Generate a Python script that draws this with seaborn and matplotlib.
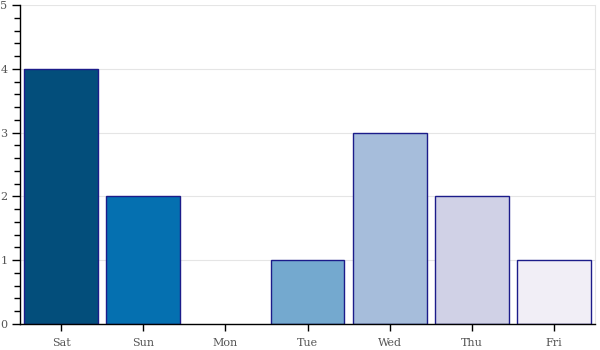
import matplotlib
matplotlib.use("Agg")
import matplotlib.pyplot as plt
import seaborn as sns
import pandas as pd
from matplotlib.ticker import MultipleLocator, AutoMinorLocator

days = ["Sat", "Sun", "Mon", "Tue", "Wed", "Thu", "Fri"]
counts = [4, 2, 0, 1, 3, 2, 1]
colors = ["#034e7b", "#0570b0", "#3690c0", "#74a9cf", "#a6bddb", "#d0d1e6", "#f1eef6"]

df = pd.DataFrame({"day": days, "count": counts})

sns.set_theme(style="white")
plt.rcParams["font.family"] = ["DejaVu Serif"]

fig = plt.figure(figsize=(6, 3.5), dpi=100)
ax = fig.add_axes([20/600, 26/350, 575/600, 319/350])

sns.barplot(data=df, x="day", y="count", hue="day", palette=colors, legend=False,
            width=0.9, edgecolor="#1c1c8a", linewidth=1, ax=ax, saturation=1)

for p in ax.patches:
    if p.get_height() == 0:
        p.set_linewidth(0)

ax.set_xlim(-0.5, 6.5)
ax.set_ylim(0, 5)
ax.yaxis.set_major_locator(MultipleLocator(1))
ax.yaxis.set_minor_locator(AutoMinorLocator(5))
ax.grid(axis="y", color="#e5e5e5", linewidth=0.8)
ax.set_axisbelow(True)
ax.set_xlabel("")
ax.set_ylabel("")
ax.spines["top"].set_visible(False)
ax.spines["right"].set_color("#e5e5e5")
ax.spines["right"].set_linewidth(0.8)
ax.spines["left"].set_color("black")
ax.spines["bottom"].set_color("black")
ax.spines["left"].set_linewidth(1)
ax.spines["bottom"].set_linewidth(1)
ax.tick_params(axis="y", which="major", left=True, length=6, width=1, color="black",
               labelsize=8, labelcolor="#555555", pad=3)
ax.tick_params(axis="y", which="minor", left=True, length=4, width=1, color="black")
ax.tick_params(axis="x", which="major", bottom=True, length=5, width=1, color="black",
               labelsize=8, labelcolor="#555555", pad=5)

fig.savefig("out.png", dpi=100)
